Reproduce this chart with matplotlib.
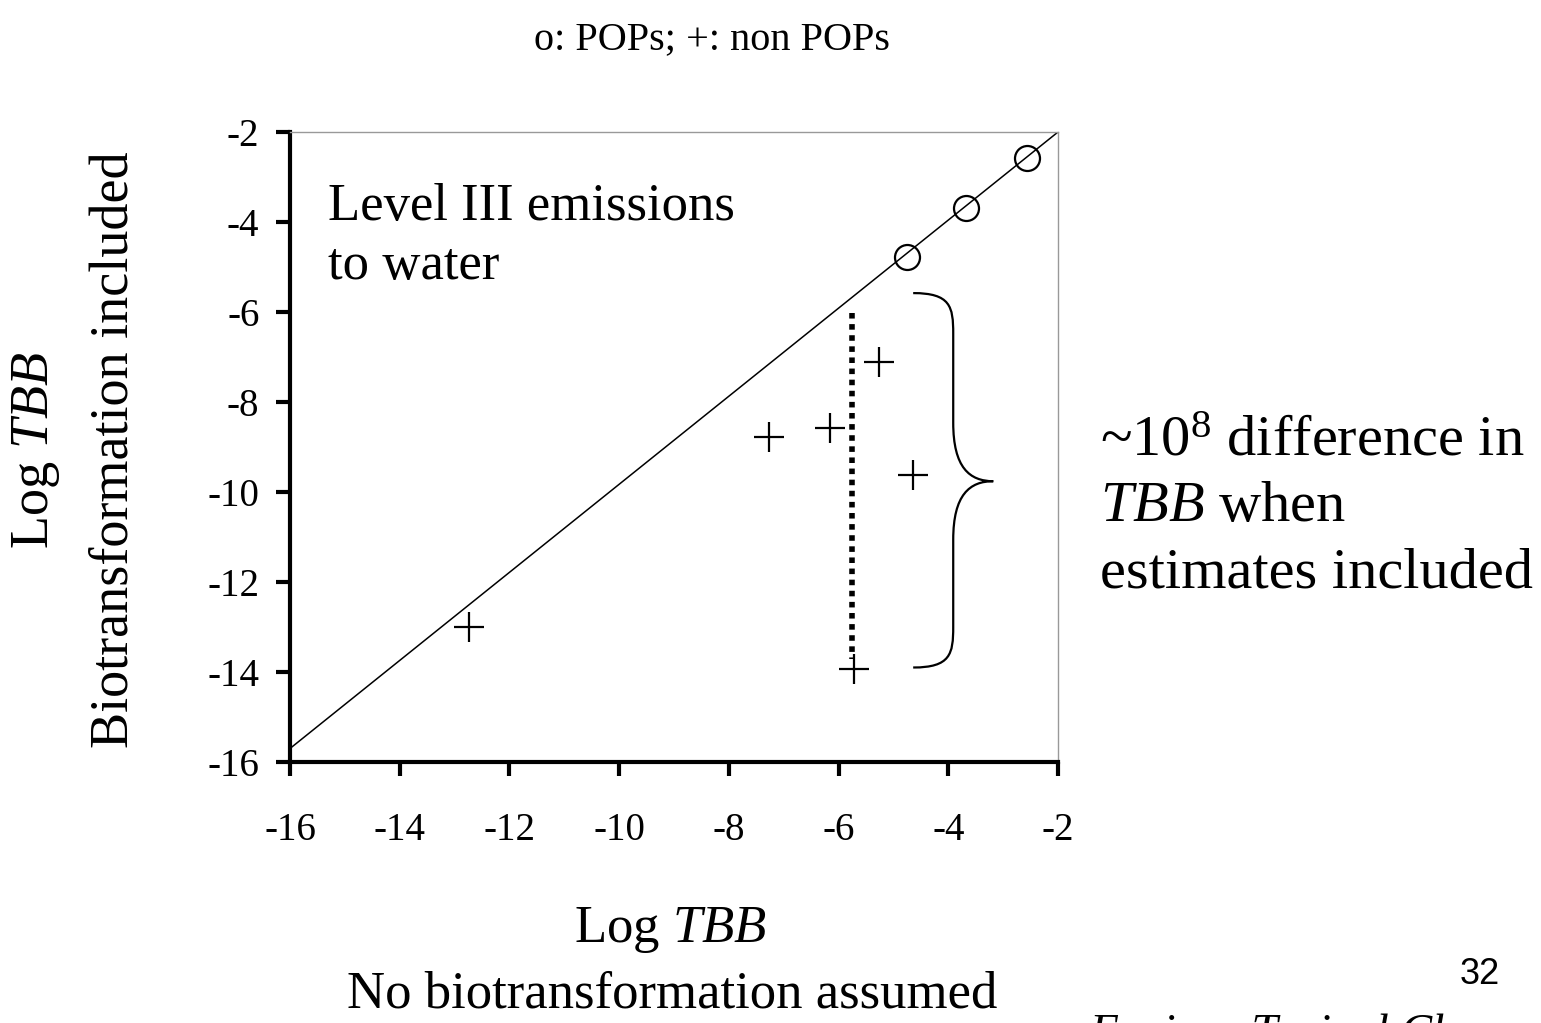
import matplotlib
matplotlib.use("Agg")
import matplotlib.pyplot as plt
from matplotlib.path import Path
from matplotlib.patches import PathPatch

plt.rcParams['font.family'] = ['Liberation Serif', 'DejaVu Serif']
plt.rcParams['mathtext.fontset'] = 'custom'
plt.rcParams['mathtext.rm'] = 'Liberation Serif'
plt.rcParams['mathtext.it'] = 'Liberation Serif:italic'

# Log TBB values: (no biotransformation, biotransformation included)
pops_x = [-2.56, -3.67, -4.76]
pops_y = [-2.58, -3.69, -4.78]
nonpops_x = [-12.73, -7.27, -6.16, -5.27, -4.65, -5.71]
nonpops_y = [-13.0, -8.78, -8.58, -7.11, -9.62, -13.93]

# reference line and vertical spread marker
ref_x = [-16, -2]
ref_y = [-15.7, -2]
spread_x = [-5.76, -5.76]
spread_y = [-6.02, -13.7]

ticks = [-16, -14, -12, -10, -8, -6, -4, -2]

W, H = 1541, 1023
fig = plt.figure(figsize=(W / 100, H / 100), dpi=100)
ax = fig.add_axes([290 / W, 1 - 762 / H, (1058 - 290) / W, (762 - 132) / H])

ax.plot(ref_x, ref_y, color='black', lw=1.1)
ax.plot(spread_x, spread_y, color='black', lw=4, linestyle=(0, (1, 1)))
ax.plot(pops_x, pops_y, linestyle='none', marker='o', markersize=18,
        markerfacecolor='none', markeredgecolor='black', markeredgewidth=1.6)
ax.plot(nonpops_x, nonpops_y, linestyle='none', marker='+', markersize=22,
        markeredgecolor='black', markeredgewidth=1.6)

# curly brace next to the non-POP points
bx0, bx1, bx2 = -4.64, -3.91, -3.18
top, mid, bot = -5.58, -9.76, -13.9
verts = [
    (bx0, top), (bx1 - 0.05, top), (bx1, top - 0.3), (bx1, top - 0.9),
    (bx1, mid + 1.3),
    (bx1, mid + 0.3), (bx1 + 0.3, mid), (bx2, mid),
    (bx1 + 0.3, mid), (bx1, mid - 0.3), (bx1, mid - 1.3),
    (bx1, bot + 0.9),
    (bx1, bot + 0.3), (bx1 - 0.05, bot), (bx0, bot),
]
codes = [Path.MOVETO, Path.CURVE4, Path.CURVE4, Path.CURVE4,
         Path.LINETO,
         Path.CURVE4, Path.CURVE4, Path.CURVE4,
         Path.CURVE4, Path.CURVE4, Path.CURVE4,
         Path.LINETO,
         Path.CURVE4, Path.CURVE4, Path.CURVE4]
ax.add_patch(PathPatch(Path(verts, codes), facecolor='none', edgecolor='black', lw=1.6))

ax.set_xlim(-16, -2)
ax.set_ylim(-16, -2)
ax.set_xticks(ticks)
ax.set_yticks(ticks)
ax.set_xticklabels([str(t) for t in ticks])
ax.set_yticklabels([str(t) for t in ticks])
ax.tick_params(axis='both', direction='out', length=10, width=3, labelsize=28, color='black')
ax.tick_params(axis='x', pad=26)
ax.tick_params(axis='y', pad=12)
for s in ['left', 'bottom']:
    ax.spines[s].set_linewidth(3)
    ax.spines[s].set_color('black')
for s in ['top', 'right']:
    ax.spines[s].set_linewidth(1)
    ax.spines[s].set_color('#999999')

ax.text(-15.3, -4.32, 'Level III emissions\nto water', fontsize=38, va='center', ha='left',
        linespacing=1.3)


def fy(y):
    return 1 - y / H


fig.text(712 / W, fy(40), 'o: POPs; +: non POPs', fontsize=29, ha='center', va='center')
fig.text(36 / W, fy(450), r'Log $\mathit{TBB}$', fontsize=39, ha='center', va='center', rotation=90)
fig.text(114 / W, fy(450), 'Biotransformation included', fontsize=39, ha='center',
         va='center', rotation=90)
fig.text(670 / W, fy(930), r'Log $\mathit{TBB}$', fontsize=38, ha='center', va='center')
fig.text(672 / W, fy(995), 'No biotransformation assumed', fontsize=38, ha='center', va='center')
fig.text(1100 / W, fy(507), '~10$^8$ difference in\n$\\mathit{TBB}$ when\nestimates included',
         fontsize=42, ha='left', va='center', linespacing=1.35)
fig.text(1480 / W, fy(975), '32', fontsize=26, ha='center', va='center', family='Liberation Sans')
fig.text(1090 / W, fy(1046), 'Environ Toxicol Chem', fontsize=34, ha='left', va='baseline',
         style='italic')

fig.savefig('out.png', dpi=100)
